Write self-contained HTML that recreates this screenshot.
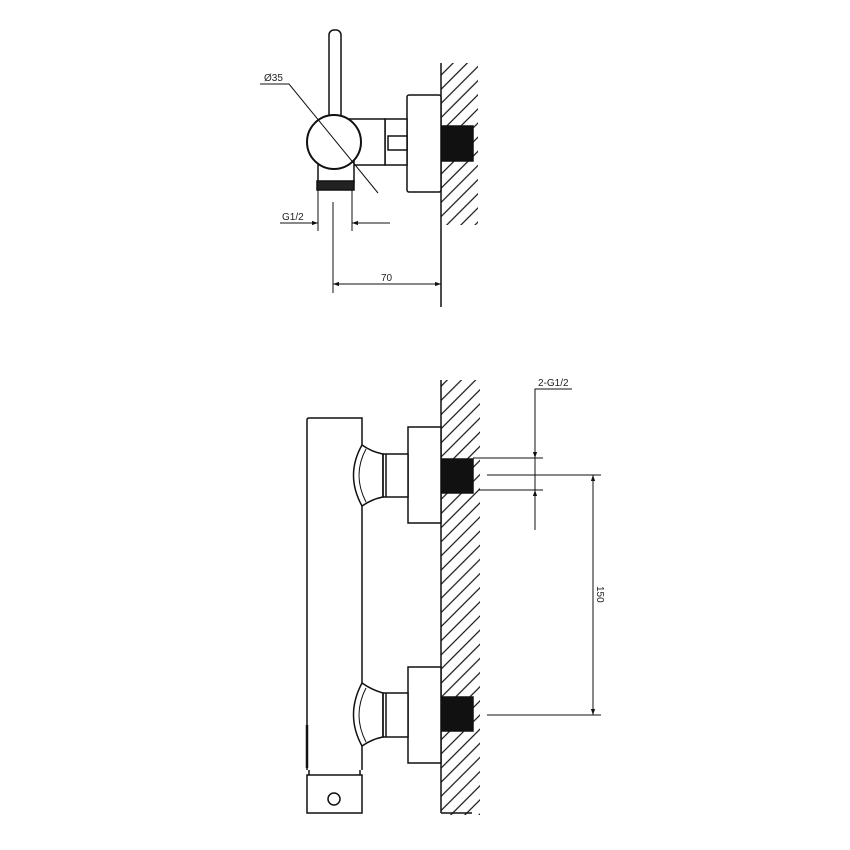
<!DOCTYPE html>
<html><head><meta charset="utf-8"><style>
html,body{margin:0;padding:0;background:#fff}
svg{display:block}
text{font-family:"Liberation Sans",sans-serif;font-size:10px;fill:#222}
</style></head><body>
<svg width="850" height="850" viewBox="0 0 850 850" xmlns="http://www.w3.org/2000/svg">
<defs>
<pattern id="h" patternUnits="userSpaceOnUse" width="10" height="10" patternTransform="rotate(45)">
<line x1="5" y1="0" x2="5" y2="10" stroke="#111" stroke-width="1.2"/>
</pattern>
<marker id="a" viewBox="0 0 10 10" refX="10" refY="5" markerWidth="8" markerHeight="6" orient="auto-start-reverse"><path d="M0,1.5 L10,5 L0,8.5z" fill="#111"/></marker>
</defs>
<g stroke="#111" fill="none" stroke-width="1.5">
<!-- TOP VIEW -->
<rect x="441" y="63" width="37" height="162" fill="url(#h)" stroke="none"/>
<line x1="441" y1="63" x2="441" y2="307"/>
<rect x="441" y="126" width="32" height="35" fill="#111" stroke="#111"/>
<rect x="407" y="95" width="34" height="97" fill="#fff" rx="2"/>
<rect x="385" y="119" width="22" height="46" fill="#fff"/>
<rect x="388" y="136" width="19" height="14" fill="#fff"/>
<rect x="348" y="119" width="37" height="46" fill="#fff"/>
<path d="M340,116 Q372,140 346,168" fill="#fff"/>
<rect x="329" y="30" width="12" height="90" rx="5" fill="#fff"/>
<rect x="318" y="160" width="36" height="22" fill="#fff"/>
<rect x="317" y="181" width="37" height="9" fill="#222" stroke="#111"/>
<circle cx="334" cy="142" r="27" fill="#fff" stroke-width="2"/>
<!-- Ø35 leader -->
<polyline points="260,84 289,84 378,193" stroke-width="1"/>
<!-- G1/2 dim -->
<line x1="318" y1="190" x2="318" y2="231" stroke-width="1"/>
<line x1="352" y1="190" x2="352" y2="231" stroke-width="1"/>
<line x1="333" y1="202" x2="333" y2="293" stroke-width="1"/>
<line x1="280" y1="223" x2="318" y2="223" stroke-width="1" marker-end="url(#a)"/>
<line x1="390" y1="223" x2="352" y2="223" stroke-width="1" marker-end="url(#a)"/>
<line x1="333" y1="284" x2="441" y2="284" stroke-width="1" marker-start="url(#a)" marker-end="url(#a)"/>

<!-- BOTTOM VIEW -->
<rect x="441" y="380" width="39" height="435" fill="url(#h)" stroke="none"/>
<line x1="441" y1="380" x2="441" y2="813"/>
<line x1="441" y1="813" x2="472" y2="813"/>
<rect x="441" y="459" width="32" height="34" fill="#111"/>
<rect x="441" y="697" width="32" height="34" fill="#111"/>
<rect x="408" y="427" width="33" height="96" fill="#fff"/>
<rect x="408" y="667" width="33" height="96" fill="#fff"/>
<rect x="383" y="454" width="25" height="43" fill="#fff"/>
<line x1="386" y1="454" x2="386" y2="497"/>
<rect x="383" y="693" width="25" height="44" fill="#fff"/>
<line x1="386" y1="693" x2="386" y2="737"/>
<!-- body -->
<path d="M307,770 L307,420 Q307,418 309,418 L362,418 L362,445 Q372,452 383,454 L383,497 Q372,499 362,506 L362,683 Q372,690 383,693 L383,737 Q372,739 362,746 L362,770"/>
<path d="M362,445 Q345,475 362,506"/>
<path d="M366,449 Q352,475 366,502" stroke-width="1"/>
<path d="M362,683 Q345,715 362,746"/>
<path d="M366,688 Q352,715 366,742" stroke-width="1"/>
<line x1="307" y1="725" x2="307" y2="768" stroke-width="2.5"/>
<path d="M309,770 L309,775 M360,770 L360,775"/>
<line x1="307" y1="775" x2="362" y2="775" stroke-width="1"/>
<rect x="307" y="775" width="55" height="38"/>
<circle cx="334" cy="799" r="6"/>
<!-- dims -->
<polyline points="572,389 535,389 535,530" stroke-width="1"/>
<line x1="535" y1="440" x2="535" y2="458" stroke-width="1" marker-end="url(#a)"/>
<line x1="535" y1="505" x2="535" y2="490" stroke-width="1" marker-end="url(#a)"/>
<line x1="473" y1="458" x2="543" y2="458" stroke-width="1"/>
<line x1="478" y1="490" x2="543" y2="490" stroke-width="1"/>
<line x1="487" y1="475" x2="601" y2="475" stroke-width="1"/>
<line x1="487" y1="715" x2="601" y2="715" stroke-width="1"/>
<line x1="593" y1="475" x2="593" y2="715" stroke-width="1" marker-start="url(#a)" marker-end="url(#a)"/>
</g>
<text x="264" y="81">Ø35</text>
<text x="282" y="220">G1/2</text>
<text x="381" y="281">70</text>
<text x="538" y="386">2-G1/2</text>
<text x="0" y="0" transform="translate(597,586) rotate(90)">150</text>
</svg>
</body></html>
